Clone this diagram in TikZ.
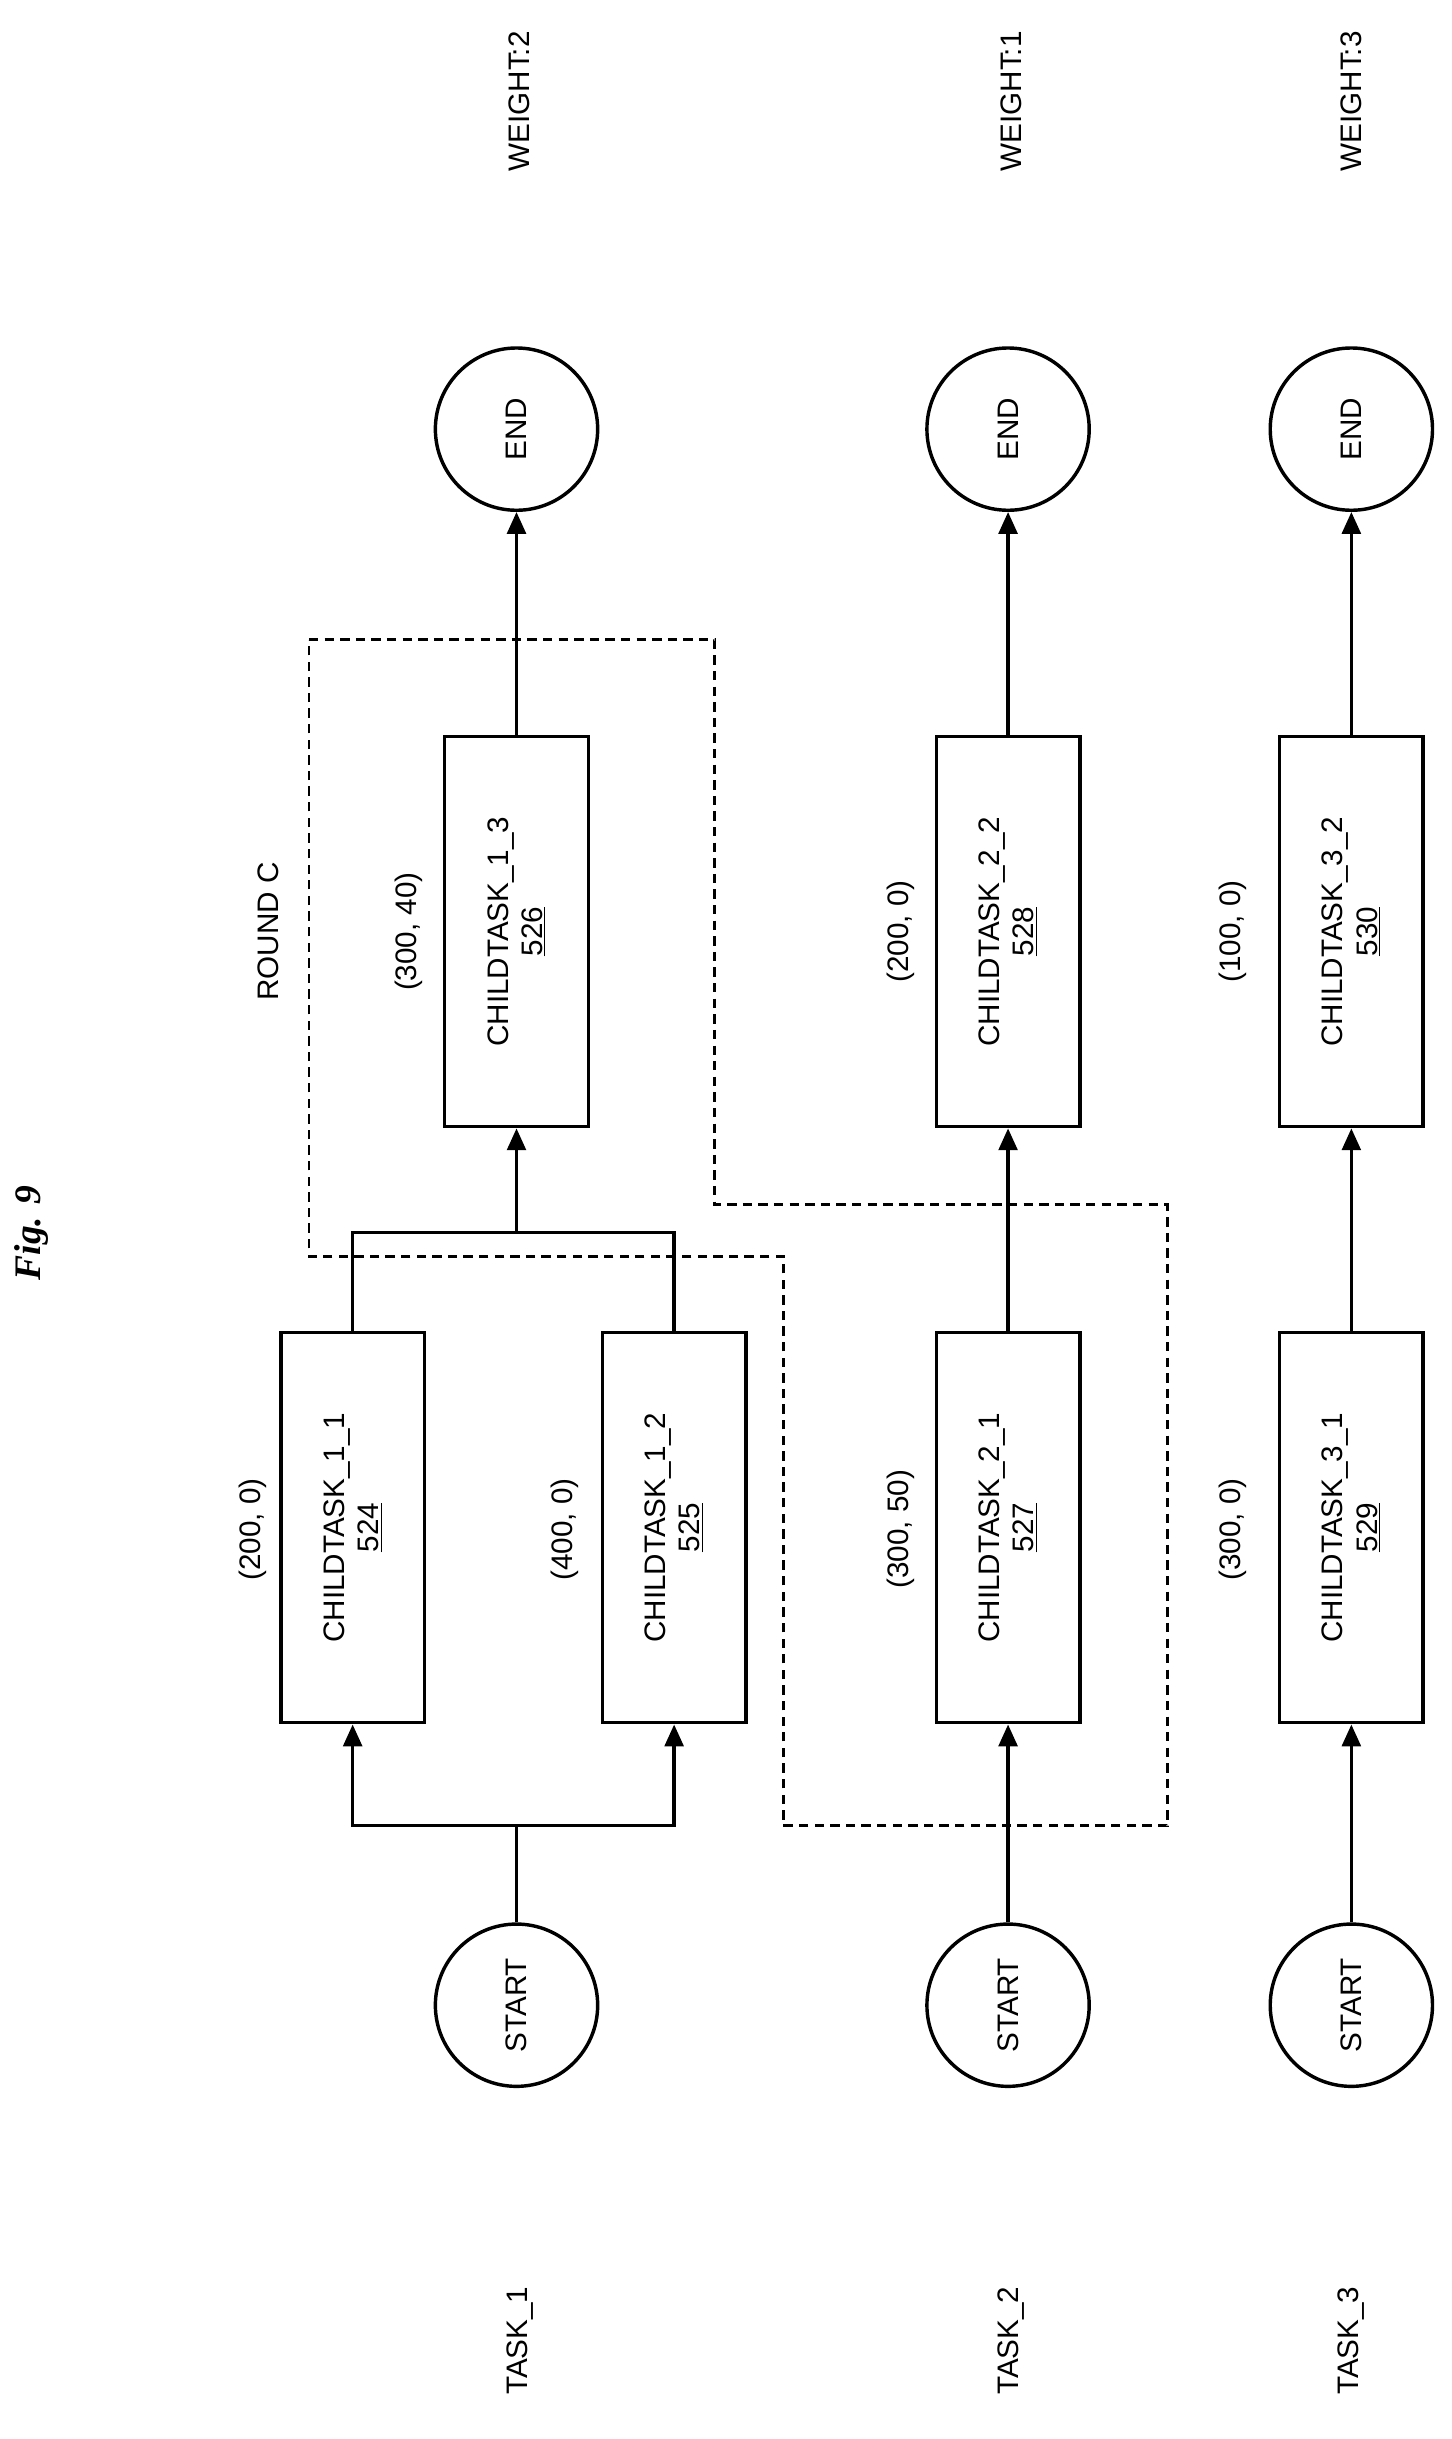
\documentclass[tikz,border=0pt]{standalone}
\usepackage{fontspec}
\setsansfont{Liberation Sans}
\setmainfont{Liberation Serif}
\usetikzlibrary{arrows.meta}
\begin{document}
\begin{tikzpicture}[x=1pt,y=-1pt,
    task/.style={draw,line width=2.2pt,rotate=90,minimum width=250pt,minimum height=92pt,align=center,font=\sffamily\fontsize{19}{22}\selectfont},
    term/.style={circle,draw,line width=2.2pt,rotate=90,minimum size=104pt,inner sep=0pt,font=\sffamily\fontsize{19}{22}\selectfont},
    lbl/.style={rotate=90,font=\sffamily\fontsize{19}{22}\selectfont},
    flow/.style={line width=2.2pt,-{Triangle[length=14pt,width=12pt]}},
    link/.style={line width=2.2pt}
    ]
    \useasboundingbox (0,0) rectangle (930,1563);

    \node at (20, 790) [rotate=90,font=\bfseries\itshape\fontsize{24}{28}\selectfont] {Fig. 9};

    \node (w1) at (333, 65) [lbl] {WEIGHT:2};
    \node (w2) at (648, 65) [lbl] {WEIGHT:1};
    \node (w3) at (866, 65) [lbl] {WEIGHT:3};
    \node (t1) at (333, 1500) [lbl] {TASK\_1};
    \node (t2) at (648, 1500) [lbl] {TASK\_2};
    \node (t3) at (866, 1500) [lbl] {TASK\_3};

    \node (end1) at (331, 275) [term] {END};
    \node (end2) at (646, 275) [term] {END};
    \node (end3) at (866, 275) [term] {END};
    \node (start1) at (331, 1285) [term] {START};
    \node (start2) at (646, 1285) [term] {START};
    \node (start3) at (866, 1285) [term] {START};

    \node (c11) at (226, 979) [task] {CHILDTASK\_1\_1\\\underline{524}};
    \node (c12) at (432, 979) [task] {CHILDTASK\_1\_2\\\underline{525}};
    \node (c13) at (331, 597) [task] {CHILDTASK\_1\_3\\\underline{526}};
    \node (c21) at (646, 979) [task] {CHILDTASK\_2\_1\\\underline{527}};
    \node (c22) at (646, 597) [task] {CHILDTASK\_2\_2\\\underline{528}};
    \node (c31) at (866, 979) [task] {CHILDTASK\_3\_1\\\underline{529}};
    \node (c32) at (866, 597) [task] {CHILDTASK\_3\_2\\\underline{530}};

    \node at (162, 980) [lbl] {(200, 0)};
    \node at (362, 980) [lbl] {(400, 0)};
    \node at (577, 980) [lbl] {(300, 50)};
    \node at (790, 980) [lbl] {(300, 0)};
    \node at (262, 597) [lbl] {(300, 40)};
    \node at (577, 597) [lbl] {(200, 0)};
    \node at (790, 597) [lbl] {(100, 0)};
    \node at (172, 597) [lbl] {ROUND C};

    \coordinate (fork) at (331, 1170);
    \coordinate (join) at (331, 790);
    \draw [link] (start1) -- (fork);
    \draw [flow] (fork) -| (c11);
    \draw [flow] (fork) -| (c12);
    \draw [link] (c11) |- (join);
    \draw [link] (c12) |- (join);
    \draw [flow] (join) -- (c13);
    \draw [flow] (c13) -- (end1);
    \draw [flow] (start2) -- (c21);
    \draw [flow] (c21) -- (c22);
    \draw [flow] (c22) -- (end2);
    \draw [flow] (start3) -- (c31);
    \draw [flow] (c31) -- (c32);
    \draw [flow] (c32) -- (end3);

    % round C
    \draw [line width=1.8pt,dash pattern=on 6pt off 4pt]
      (198,410) -- (458,410) -- (458,772) -- (748,772) -- (748,1170)
      -- (502,1170) -- (502,805) -- (198,805) -- cycle;

  \end{tikzpicture}
\end{document}
